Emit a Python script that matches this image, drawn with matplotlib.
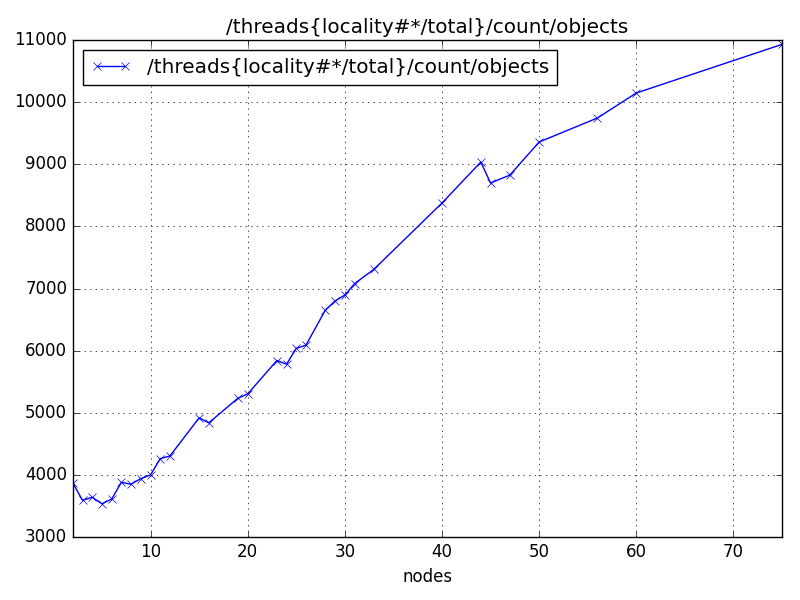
import matplotlib
matplotlib.use("Agg")
import matplotlib.pyplot as plt

plt.style.use("classic")

# nodes vs objects count
nodes = [2, 3, 4, 5, 6, 7, 8, 9, 10, 11, 12, 15, 16, 19, 20, 23, 24, 25, 26,
         28, 29, 30, 31, 33, 40, 44, 45, 47, 50, 56, 60, 75]
objects = [3870, 3590, 3640, 3535, 3610, 3880, 3850, 3940, 3998, 4262, 4304,
           4918, 4838, 5235, 5302, 5840, 5782, 6036, 6088, 6654, 6800, 6895,
           7078, 7310, 8376, 9036, 8698, 8827, 9358, 9745, 10147, 10930]

label = "/threads{locality#*/total}/count/objects"

fig = plt.figure(figsize=(8, 6), dpi=100)
ax = fig.add_subplot(111)
ax.plot(nodes, objects, "bx-", label=label)
ax.set_xlim(2, 75)
ax.set_ylim(3000, 11000)
ax.set_title(label)
ax.set_xlabel("nodes")
ax.grid(True)
ax.legend(loc="upper left")

fig.subplots_adjust(left=0.091, right=0.9775, top=0.9333, bottom=0.105)
fig.savefig("out.png", dpi=100)
